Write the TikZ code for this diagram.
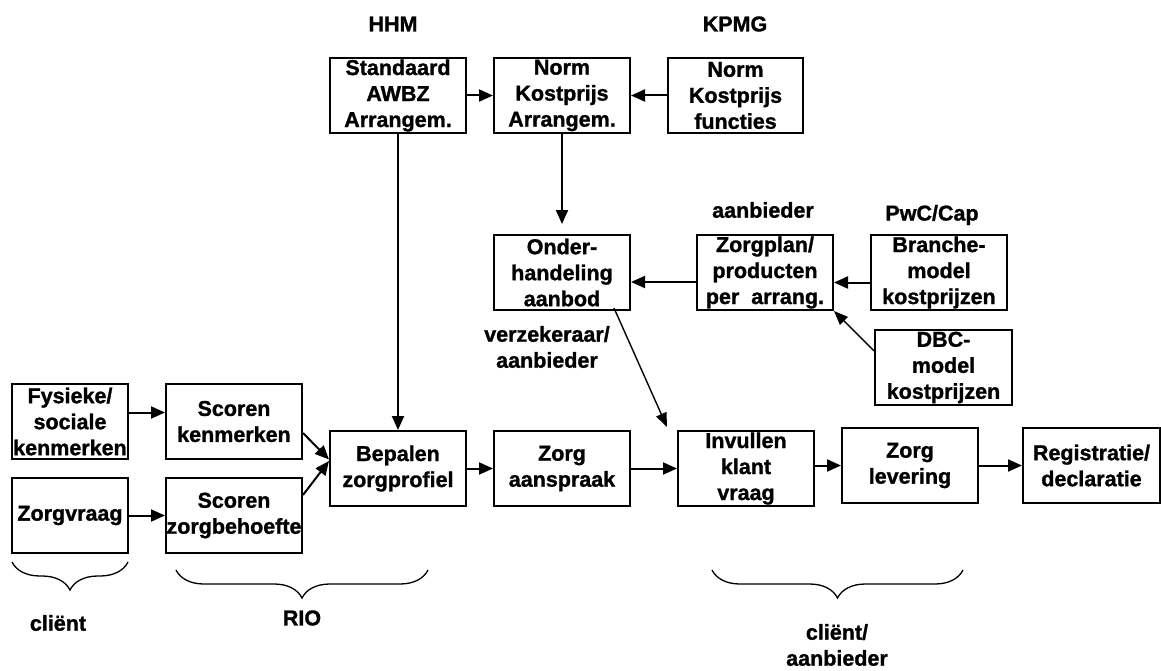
\documentclass[tikz,border=0pt]{standalone}
\usepackage{fontspec}
\setmainfont{Liberation Sans}[BoldFeatures={FakeBold=1.2}]
\usetikzlibrary{arrows.meta,decorations.pathreplacing,calc}

\begin{document}
\begin{tikzpicture}[x=1pt,y=-1pt,
    box/.style={draw,line width=2pt,minimum width=136pt,minimum height=75pt,
      inner sep=0pt,align=center,font=\fontsize{21.5}{26}\selectfont\bfseries},
    lbl/.style={align=center,font=\fontsize{21.5}{26}\selectfont\bfseries},
    arr/.style={line width=2pt,-{Triangle[length=14pt,width=12pt]}},
    thinarr/.style={line width=1.4pt,-{Triangle[length=14pt,width=11pt]}},
    brc/.style={decorate,decoration={brace,amplitude=28pt},line width=1.3pt}]
    \useasboundingbox[fill=white] (0,0) rectangle (1161,671);

    % Draw the top row
    \node[box] (standaard) at (398,95.5) {Standaard\\AWBZ\\Arrangem.};
    \node[box] (normarr) at (562,95.5) {Norm\\Kostprijs\\Arrangem.};
    \node[box,minimum width=135pt] (normfunc) at (735.5,95.5) {Norm\\Kostprijs\\functies};

    % Draw the middle row
    \node[box] (onder) at (562,272.5) {Onder-\\handeling\\aanbod};
    \node[box] (zorgplan) at (765,272.5) {Zorgplan/\\producten\\per~ arrang.};
    \node[box] (branche) at (939,272.5) {Branche-\\model\\kostprijzen};
    \node[box,minimum width=137pt] (dbc) at (943.5,367.5) {DBC-\\model\\kostprijzen};

    % Draw the bottom row
    \node[box,minimum width=116pt] (fysiek) at (70,421.5) {Fysieke/\\sociale\\kenmerken};
    \node[box,minimum width=116pt] (zorgvraag) at (70,515.5) {Zorgvraag};
    \node[box] (scorenk) at (234,421.5) {Scoren\\kenmerken};
    \node[box] (scorenz) at (234,515.5) {Scoren\\zorgbehoefte};
    \node[box] (bepalen) at (398,468.5) {Bepalen\\zorgprofiel};
    \node[box] (aanspraak) at (562,468.5) {Zorg\\aanspraak};
    \node[box] (invullen) at (746,468.5) {Invullen\\klant\\vraag};
    \node[box] (levering) at (910,465.5) {Zorg\\levering};
    \node[box,minimum width=137pt] (registratie) at (1091.5,465.5) {Registratie/\\declaratie};

    % Add labels
    \node[lbl] (hhm) at (393,24) {HHM};
    \node[lbl] (kpmg) at (735,24) {KPMG};
    \node[lbl] (aanb) at (763,210) {aanbieder};
    \node[lbl] (pwc) at (932,215) {PwC/Cap};
    \node[lbl] (verz) at (547,347) {verzekeraar/\\aanbieder};
    \node[lbl] (client) at (58,623) {cliënt};
    \node[lbl] (rio) at (302,618) {RIO};
    \node[lbl] (clientaanb) at (837,645) {cliënt/\\aanbieder};

    % Draw the arrows
    \draw[arr] (standaard) -- (normarr);
    \draw[arr] (normfunc) -- (normarr);
    \draw[arr] (standaard) -- (bepalen);
    \draw[arr,shorten >=10pt] (normarr) -- (onder);
    \draw[arr] ([yshift=-9.5pt]zorgplan.west) -- ([yshift=-9.5pt]onder.east);
    \draw[arr] ([yshift=-10pt]branche.west) -- ([yshift=-10pt]zorgplan.east);
    \draw[thinarr] ($(dbc.north west)+(0,22)$) -- (zorgplan.south east);
    \draw[thinarr] ($(onder.south east)+(-17,-3)$) -- ($(invullen.north west)+(-10,-3)$);
    \draw[arr] ([yshift=9pt]fysiek.east) -- ([yshift=9pt]scorenk.west);
    \draw[arr] (zorgvraag) -- (scorenz);
    \draw[arr] ($(scorenk.south east)+(0,-27)$) -- ($(bepalen.west)+(0,-9)$);
    \draw[arr] ($(scorenz.north east)+(0,18)$) -- ($(bepalen.west)+(0,-7.5)$);
    \draw[arr] (bepalen) -- (aanspraak);
    \draw[arr] (aanspraak) -- (invullen);
    \draw[arr] (invullen.east |- levering.west) -- (levering.west);
    \draw[arr] (levering) -- (registratie);

    % Draw the braces
    \draw[brc] (128,562) -- (12,562);
    \draw[brc] (428,570) -- (176,570);
    \draw[brc] (963,570) -- (712,570);
  \end{tikzpicture}
\end{document}
